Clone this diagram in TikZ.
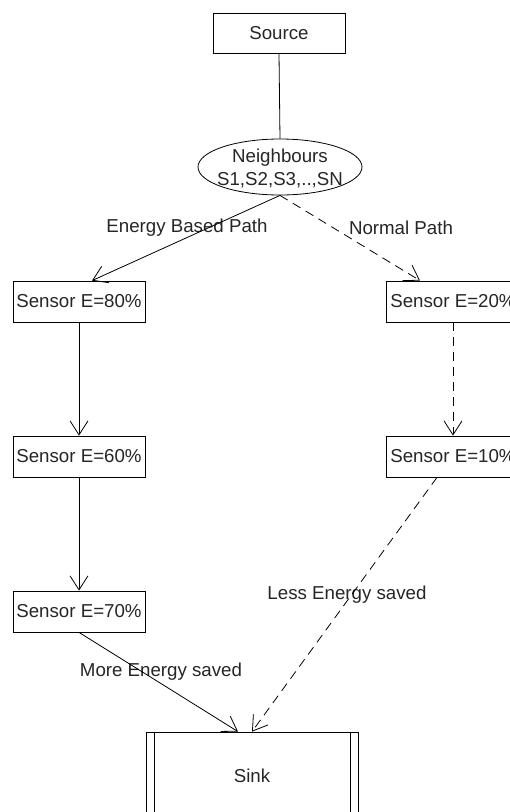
\documentclass[tikz,border=0pt]{standalone}
\usepackage{fontspec}
\setmainfont{Liberation Sans}
\usetikzlibrary{arrows.meta,shapes.geometric}
\begin{document}
\begin{tikzpicture}[x=1pt,y=-1pt,
  every node/.style={font=\fontsize{18.7}{21}\selectfont, text=black!85},
  box/.style={draw, line width=0.8pt, inner sep=0pt, minimum width=132pt, minimum height=41pt},
  link/.style={line width=0.8pt},
  arr/.style={link, -{Straight Barb[length=14pt,width=18pt,line width=0.8pt]}},
  dashline/.style={dash pattern=on 9pt off 6pt}
]
\useasboundingbox (0,0) rectangle (510,812);
\fill[white] (0,0) rectangle (510,812);
\node[box, minimum height=40pt] (src) at (279,33) {Source};
\node[draw, ellipse, line width=0.8pt, inner sep=0pt, minimum width=164pt, minimum height=56pt] (nb) at (280,167) {};
\node[font=\fontsize{18.7}{23}\selectfont, align=center] (nbt) at (280,168.5) {Neighbours\\S1,S2,S3,..,SN};
\node[box] (s80) at (79,301.5) {Sensor E=80\%};
\node[box] (s60) at (79,456.5) {Sensor E=60\%};
\node[box] (s70) at (79,611.5) {Sensor E=70\%};
\node[box, minimum width=134pt] (s20) at (453,301.5) {Sensor E=20\%};
\node[box, minimum width=134pt] (s10) at (453,456.5) {Sensor E=10\%};
\node[draw, line width=0.8pt, inner sep=0pt, minimum width=212pt, minimum height=100pt] (sink) at (252,782) {};
\node (sinkt) at (252,776) {Sink};
\draw[link] ([xshift=9pt]sink.north west) -- ([xshift=9pt]sink.south west);
\draw[link] ([xshift=-8pt]sink.north east) -- ([xshift=-8pt]sink.south east);

\node (lab1) at (187,228) {Energy Based Path};
\node (lab2) at (401,228) {Normal Path};
\node (lab3) at (347,595) {Less Energy saved};
\node (lab4) at (161,672) {More Energy saved};

\draw[link] (src.south) -- (nb.north);
\draw[arr] (nb.south) -- ([xshift=13pt]s80.north);
\draw[arr, dashline] (nb.south) -- ([xshift=-33pt]s20.north);
\draw[arr] (s80.south) -- (s60.north);
\draw[arr] (s60.south) -- (s70.north);
\draw[arr, dashline] (s20.south) -- (s10.north);
\draw[arr] (s70.south) -- ([xshift=-14pt]sink.north);
\draw[arr, dashline] ([xshift=-16pt]s10.south) -- (sink.north);
\end{tikzpicture}
\end{document}
